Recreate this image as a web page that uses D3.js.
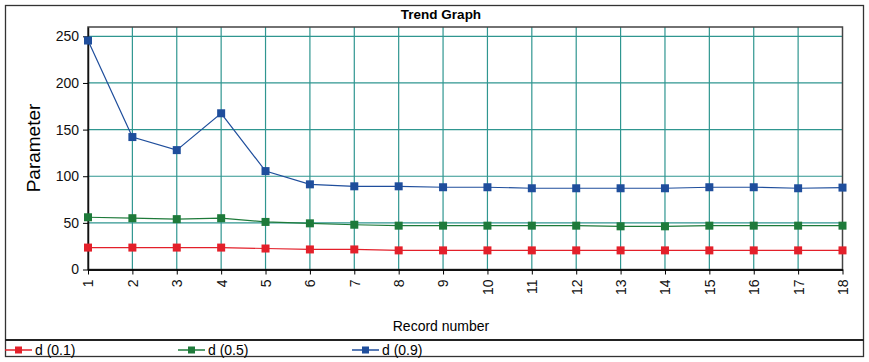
<!DOCTYPE html>
<html><head><meta charset="utf-8">
<script src="https://cdn.jsdelivr.net/npm/d3@7"></script>
<style>
body{margin:0;background:#fff;}
text{font-family:"Liberation Sans",Arial,sans-serif;}
</style></head>
<body><svg id="c" width="869" height="362"></svg>
<script>
const records = [1,2,3,4,5,6,7,8,9,10,11,12,13,14,15,16,17,18];
const d01 = [23.5,23.5,23.5,23.5,22.5,21.5,21.5,20.5,20.5,20.5,20.5,20.5,20.5,20.5,20.5,20.5,20.5,20.5];
const d05 = [56,55,54,55,51,49.5,48,47,47,47,47,47,46.3,46.3,47,47,47,47];
const d09 = [245.5,142,128,167.5,105.5,91.3,89.2,89.2,88.2,88.2,87.1,87.1,87.1,87.1,88.2,88.2,87.1,87.8];
const yTicks = [0,50,100,150,200,250];
const seriesNames = ["d (0.1)","d (0.5)","d (0.9)"];
const seriesColors = ["#e3202a","#1e7a3a","#1f4e9c"];

const svg = d3.select("#c");
const m = {l:88, r:842.5, t:27, b:269.5};
const x = d3.scaleLinear().domain([1,18]).range([m.l,m.r]);
const y = d3.scaleLinear().domain([0,260]).range([m.b,m.t]);

// outer frame and legend separator
svg.append("rect").attr("x",5.5).attr("y",5.5).attr("width",858).attr("height",351)
  .attr("fill","none").attr("stroke","#333").attr("stroke-width",1.3);
svg.append("line").attr("x1",5).attr("x2",864).attr("y1",340).attr("y2",340)
  .attr("stroke","#222").attr("stroke-width",2);

svg.append("text").attr("x",441).attr("y",19).attr("text-anchor","middle")
  .attr("font-weight","bold").attr("font-size",13.5).text("Trend Graph");

// grid
const grid = svg.append("g").attr("stroke","#2f9690").attr("stroke-width",1.2);
yTicks.filter(v=>v>0).forEach(v=>grid.append("line").attr("x1",m.l).attr("x2",m.r)
  .attr("y1",y(v)).attr("y2",y(v)));
records.slice(1,-1).forEach(v=>grid.append("line").attr("x1",x(v)).attr("x2",x(v))
  .attr("y1",m.t).attr("y2",m.b));

// plot frame
svg.append("rect").attr("x",m.l).attr("y",m.t).attr("width",m.r-m.l).attr("height",m.b-m.t)
  .attr("fill","none").attr("stroke","#444").attr("stroke-width",1.5);

// axes
const ya = svg.append("g").attr("transform",`translate(${m.l},0)`)
  .call(d3.axisLeft(y).tickValues(yTicks).tickSize(5).tickSizeOuter(0));
ya.selectAll("text").attr("font-size",14).attr("fill","#111").attr("dx",-1);
ya.select(".domain").attr("stroke","#111").attr("stroke-width",1.5);
const xa = svg.append("g").attr("transform",`translate(0,${m.b})`)
  .call(d3.axisBottom(x).tickValues(records).tickFormat(d3.format("d")).tickSize(5).tickSizeOuter(0));
xa.select(".domain").attr("stroke","#111").attr("stroke-width",1.8);
xa.selectAll("text").attr("font-size",14).attr("fill","#111")
  .attr("transform","rotate(-90)").attr("text-anchor","end").attr("dy","0.35em")
  .attr("x",-10).attr("y",0);

svg.append("text").attr("x",441).attr("y",331).attr("text-anchor","middle")
  .attr("font-size",14).text("Record number");
svg.append("text").attr("transform","translate(40,148) rotate(-90)").attr("text-anchor","middle")
  .attr("font-size",19).text("Parameter");

// series
const line = d3.line().x((d,i)=>x(records[i])).y(d=>y(d));
[d01,d05,d09].forEach((s,k)=>{
  svg.append("path").datum(s).attr("d",line).attr("fill","none")
    .attr("stroke",seriesColors[k]).attr("stroke-width",1.2);
  svg.selectAll(null).data(s).enter().append("rect")
    .attr("x",(d,i)=>x(records[i])-4).attr("y",d=>y(d)-4).attr("width",8).attr("height",8)
    .attr("fill",seriesColors[k]);
});

// legend
const legX = [5,178,352];
seriesNames.forEach((n,k)=>{
  const g = svg.append("g").attr("transform",`translate(${legX[k]},350)`);
  g.append("line").attr("x1",0).attr("x2",27).attr("stroke",seriesColors[k]).attr("stroke-width",1.5);
  g.append("rect").attr("x",10).attr("y",-3.5).attr("width",7).attr("height",7).attr("fill",seriesColors[k]);
  g.append("text").attr("x",30).attr("y",5).attr("font-size",14).text(n);
});
</script></body></html>
